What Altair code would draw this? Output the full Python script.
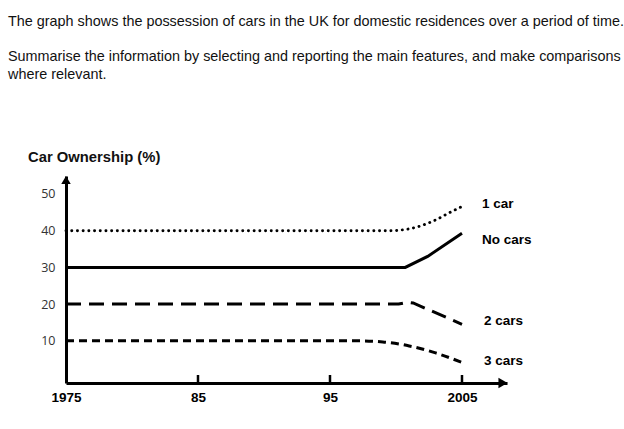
import altair as alt
import pandas as pd

# ---- data ----
one_car_years = [1975, 1999.5, 2001, 2002.8, 2004.1, 2005]
one_car_vals = [40, 40, 40.5, 42.6, 45, 46.6]
no_car_years = [1975, 2000.7, 2002.4, 2005]
no_car_vals = [30, 30, 33, 39.3]
two_car_years = [1975, 2000.2, 2000.9, 2001.3, 2005]
two_car_vals = [20, 20, 20.5, 20.3, 14.5]
three_car_years = [1975, 1997, 1999, 2001, 2003, 2005]
three_car_vals = [10, 10, 9.7, 8.6, 6.7, 4.1]

series_names = ["1 car", "No cars", "2 cars", "3 cars"]
x_tick_years = [1985, 1995, 2005]
x_label_years = [1975, 1985, 1995, 2005]
y_label_values = [10, 20, 30, 40, 50]

header_line1 = "The graph shows the possession of cars in the UK for domestic residences over a period of time."
header_line2 = "Summarise the information by selecting and reporting the main features, and make comparisons"
header_line3 = "where relevant."
y_title = "Car Ownership (%)"

W, H = 441, 207
FONT = "Liberation Sans"

xs = alt.Scale(domain=[1975, 2008.41], nice=False, zero=False)
ys = alt.Scale(domain=[-1.5, 54.9], nice=False, zero=False)

x_axis = alt.Axis(values=x_label_years, ticks=False, grid=False, title=None,
                  domainColor="black", domainWidth=3, labelFont=FONT,
                  labelFontWeight="bold", labelFontSize=13.5, labelColor="black",
                  labelPadding=7, labelFlush=False, labelOverlap=False,
                  labelExpr="datum.value == 1985 ? '85' : datum.value == 1995 ? '95' : datum.label",
                  format="d")
y_axis = alt.Axis(values=y_label_values, ticks=False, grid=False, title=None,
                  domainColor="black", domainWidth=3, labelFont="Open Sans",
                  labelFontSize=12.5, labelColor="#333", labelPadding=11,
                  labelFlush=False, labelOverlap=False)


def series_df(years, vals, name):
    return pd.DataFrame({"year": years, "value": vals, "series": name})


styles = {
    "1 car": dict(strokeDash=[0.1, 5.6], strokeCap="round", strokeWidth=2.9, interpolate="monotone"),
    "No cars": dict(strokeWidth=3, interpolate="linear"),
    "2 cars": dict(strokeDash=[15, 8], strokeWidth=3, interpolate="linear"),
    "3 cars": dict(strokeDash=[8, 5], strokeWidth=3, interpolate="monotone"),
}
label_offsets = {"1 car": (20, -2), "No cars": (20, 7), "2 cars": (22, -3), "3 cars": (22, -1)}

dfs = {
    "1 car": series_df(one_car_years, one_car_vals, "1 car"),
    "No cars": series_df(no_car_years, no_car_vals, "No cars"),
    "2 cars": series_df(two_car_years, two_car_vals, "2 cars"),
    "3 cars": series_df(three_car_years, three_car_vals, "3 cars"),
}

layers = []

# axes frame (invisible point layer carrying the axes)
axis_df = pd.DataFrame({"year": [1975], "value": [0]})
layers.append(alt.Chart(axis_df).mark_point(opacity=0).encode(
    x=alt.X("year:Q", scale=xs, axis=x_axis),
    y=alt.Y("value:Q", scale=ys, axis=y_axis)))

for name in series_names:
    st = styles[name]
    layers.append(alt.Chart(dfs[name]).mark_line(color="black", **st).encode(
        x=alt.X("year:Q", scale=xs),
        y=alt.Y("value:Q", scale=ys)))
    end = dfs[name].iloc[[-1]]
    dx, dy = label_offsets[name]
    layers.append(alt.Chart(end).mark_text(align="left", baseline="middle", dx=dx, dy=dy,
                                           font=FONT, fontWeight="bold", fontSize=13.5,
                                           color="black").encode(
        x=alt.X("year:Q", scale=xs),
        y=alt.Y("value:Q", scale=ys),
        text="series:N"))

# x-axis ticks pointing up
tick_df = pd.DataFrame({"year": x_tick_years})
layers.append(alt.Chart(tick_df).mark_rule(color="black", strokeWidth=2.5).encode(
    x=alt.X("year:Q", scale=xs), y=alt.value(H - 8), y2=alt.value(H)))

# arrowheads
arrow_df = pd.DataFrame({"a": [0]})
layers.append(alt.Chart(arrow_df).mark_point(shape="triangle-up", filled=True, color="black",
                                             size=90, opacity=1).encode(
    x=alt.value(0), y=alt.value(4)))
layers.append(alt.Chart(arrow_df).mark_point(shape="triangle-right", filled=True, color="black",
                                             size=110, opacity=1).encode(
    x=alt.value(W - 4), y=alt.value(H)))

# header texts
for txt, yy, x0, weight, fs in [(header_line1, -154, -58, "normal", 14.4),
                               (header_line2, -119, -58, "normal", 14.4),
                               (header_line3, -101, -58, "normal", 14.4),
                               (y_title, -18, -38, "bold", 14.8)]:
    layers.append(alt.Chart(pd.DataFrame({"t": [txt]})).mark_text(
        align="left", baseline="middle", font=FONT, fontSize=fs, fontWeight=weight,
        color="#111").encode(x=alt.value(x0), y=alt.value(yy), text="t:N"))

chart = alt.layer(*layers).properties(
    width=W, height=H,
    padding={"left": 66, "top": 176, "right": 624 - 66 - W, "bottom": 429 - 176 - H},
    autosize=alt.AutoSizeParams(type="none"),
).configure_view(strokeWidth=0)

chart.save("out.html", embed_options={"renderer": "svg", "actions": False})
